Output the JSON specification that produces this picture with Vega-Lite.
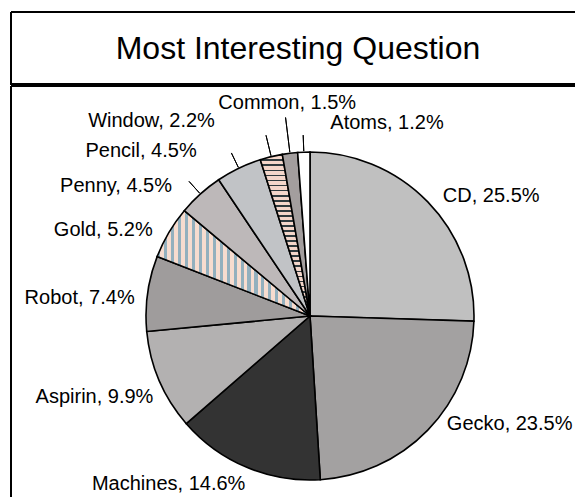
{
  "$schema": "https://vega.github.io/schema/vega-lite/v6.json",
  "padding": {"left": 10, "top": 11, "right": 0, "bottom": 0},
  "config": {
    "view": {"stroke": null},
    "concat": {"spacing": 0},
    "font": "Liberation Sans"
  },
  "spacing": 0,
  "vconcat": [
    {
      "width": 564,
      "height": 72,
      "data": {"values": [{"title": "Most Interesting Question"}]},
      "layer": [
        {
          "mark": {"type": "rect", "fill": "#ffffff", "fillOpacity": 0, "stroke": "#000000", "strokeWidth": 2, "strokeDash": [564, 72, 636, 0]},
          "encoding": {}
        },
        {
          "mark": {"type": "text", "font": "Liberation Sans", "fontSize": 32, "color": "#000000", "baseline": "alphabetic", "align": "center", "dx": 5, "dy": 11},
          "encoding": {"text": {"field": "title", "type": "nominal"}}
        }
      ]
    },
    {
      "width": 564,
      "height": 412,
      "data": {
        "values": [
          {"category": "CD", "pct": 25.5, "label": "CD, 25.5%", "rank": 1},
          {"category": "Gecko", "pct": 23.5, "label": "Gecko, 23.5%", "rank": 2},
          {"category": "Machines", "pct": 14.6, "label": "Machines, 14.6%", "rank": 3},
          {"category": "Aspirin", "pct": 9.9, "label": "Aspirin, 9.9%", "rank": 4},
          {"category": "Robot", "pct": 7.4, "label": "Robot, 7.4%", "rank": 5},
          {"category": "Gold", "pct": 5.2, "label": "Gold, 5.2%", "rank": 6},
          {"category": "Penny", "pct": 4.5, "label": "Penny, 4.5%", "rank": 7},
          {"category": "Pencil", "pct": 4.5, "label": "Pencil, 4.5%", "rank": 8},
          {"category": "Window", "pct": 2.2, "label": "Window, 2.2%", "rank": 9},
          {"category": "Common", "pct": 1.5, "label": "Common, 1.5%", "rank": 10},
          {"category": "Atoms", "pct": 1.2, "label": "Atoms, 1.2%", "rank": 11}
        ]
      },
      "layer": [
        {
          "data": {"values": [{"frame": 1}]},
          "mark": {"type": "rect", "fill": "#ffffff", "fillOpacity": 0, "stroke": "#000000", "strokeWidth": 2, "strokeDash": [564, 976, 412, 0]},
          "encoding": {}
        },
        {
          "mark": {"type": "arc", "radius": 164, "stroke": "#000000", "strokeWidth": 1.6, "xOffset": 17, "yOffset": 24},
          "encoding": {
            "theta": {"field": "pct", "type": "quantitative", "stack": true},
            "order": {"field": "rank", "type": "quantitative"},
            "fill": {
              "field": "category",
              "type": "nominal",
              "legend": null,
              "scale": {
                "domain": ["CD", "Gecko", "Machines", "Aspirin", "Robot", "Gold", "Penny", "Pencil", "Window", "Common", "Atoms"],
                "range": ["#c0c0c0", "#a3a1a1", "#333333", "#b3b1b1", "#9f9c9c", "#cdd0d2", "#bdb8b9", "#c1c3c6", "#9c8f8d", "#a39e9e", "#ffffff"]
              },
              "condition": [
                {
                  "test": "datum.category == 'Gold'",
                  "value": {
                    "gradient": "linear", "x1": 0, "y1": 0, "x2": 1, "y2": 0,
                    "stops": [
                      {"offset": 0, "color": "#93b0be"}, {"offset": 0.0205, "color": "#93b0be"}, {"offset": 0.0205, "color": "#f7dccf"}, {"offset": 0.0455, "color": "#f7dccf"},
                      {"offset": 0.0455, "color": "#93b0be"}, {"offset": 0.0659, "color": "#93b0be"}, {"offset": 0.0659, "color": "#f7dccf"}, {"offset": 0.0909, "color": "#f7dccf"},
                      {"offset": 0.0909, "color": "#93b0be"}, {"offset": 0.1114, "color": "#93b0be"}, {"offset": 0.1114, "color": "#f7dccf"}, {"offset": 0.1364, "color": "#f7dccf"},
                      {"offset": 0.1364, "color": "#93b0be"}, {"offset": 0.1568, "color": "#93b0be"}, {"offset": 0.1568, "color": "#f7dccf"}, {"offset": 0.1818, "color": "#f7dccf"},
                      {"offset": 0.1818, "color": "#93b0be"}, {"offset": 0.2023, "color": "#93b0be"}, {"offset": 0.2023, "color": "#f7dccf"}, {"offset": 0.2273, "color": "#f7dccf"},
                      {"offset": 0.2273, "color": "#93b0be"}, {"offset": 0.2477, "color": "#93b0be"}, {"offset": 0.2477, "color": "#f7dccf"}, {"offset": 0.2727, "color": "#f7dccf"},
                      {"offset": 0.2727, "color": "#93b0be"}, {"offset": 0.2932, "color": "#93b0be"}, {"offset": 0.2932, "color": "#f7dccf"}, {"offset": 0.3182, "color": "#f7dccf"},
                      {"offset": 0.3182, "color": "#93b0be"}, {"offset": 0.3386, "color": "#93b0be"}, {"offset": 0.3386, "color": "#f7dccf"}, {"offset": 0.3636, "color": "#f7dccf"},
                      {"offset": 0.3636, "color": "#93b0be"}, {"offset": 0.3841, "color": "#93b0be"}, {"offset": 0.3841, "color": "#f7dccf"}, {"offset": 0.4091, "color": "#f7dccf"},
                      {"offset": 0.4091, "color": "#93b0be"}, {"offset": 0.4295, "color": "#93b0be"}, {"offset": 0.4295, "color": "#f7dccf"}, {"offset": 0.4545, "color": "#f7dccf"},
                      {"offset": 0.4545, "color": "#93b0be"}, {"offset": 0.475, "color": "#93b0be"}, {"offset": 0.475, "color": "#f7dccf"}, {"offset": 0.5, "color": "#f7dccf"},
                      {"offset": 0.5, "color": "#93b0be"}, {"offset": 0.5205, "color": "#93b0be"}, {"offset": 0.5205, "color": "#f7dccf"}, {"offset": 0.5455, "color": "#f7dccf"},
                      {"offset": 0.5455, "color": "#93b0be"}, {"offset": 0.5659, "color": "#93b0be"}, {"offset": 0.5659, "color": "#f7dccf"}, {"offset": 0.5909, "color": "#f7dccf"},
                      {"offset": 0.5909, "color": "#93b0be"}, {"offset": 0.6114, "color": "#93b0be"}, {"offset": 0.6114, "color": "#f7dccf"}, {"offset": 0.6364, "color": "#f7dccf"},
                      {"offset": 0.6364, "color": "#93b0be"}, {"offset": 0.6568, "color": "#93b0be"}, {"offset": 0.6568, "color": "#f7dccf"}, {"offset": 0.6818, "color": "#f7dccf"},
                      {"offset": 0.6818, "color": "#93b0be"}, {"offset": 0.7023, "color": "#93b0be"}, {"offset": 0.7023, "color": "#f7dccf"}, {"offset": 0.7273, "color": "#f7dccf"},
                      {"offset": 0.7273, "color": "#93b0be"}, {"offset": 0.7477, "color": "#93b0be"}, {"offset": 0.7477, "color": "#f7dccf"}, {"offset": 0.7727, "color": "#f7dccf"},
                      {"offset": 0.7727, "color": "#93b0be"}, {"offset": 0.7932, "color": "#93b0be"}, {"offset": 0.7932, "color": "#f7dccf"}, {"offset": 0.8182, "color": "#f7dccf"},
                      {"offset": 0.8182, "color": "#93b0be"}, {"offset": 0.8386, "color": "#93b0be"}, {"offset": 0.8386, "color": "#f7dccf"}, {"offset": 0.8636, "color": "#f7dccf"},
                      {"offset": 0.8636, "color": "#93b0be"}, {"offset": 0.8841, "color": "#93b0be"}, {"offset": 0.8841, "color": "#f7dccf"}, {"offset": 0.9091, "color": "#f7dccf"},
                      {"offset": 0.9091, "color": "#93b0be"}, {"offset": 0.9295, "color": "#93b0be"}, {"offset": 0.9295, "color": "#f7dccf"}, {"offset": 0.9545, "color": "#f7dccf"},
                      {"offset": 0.9545, "color": "#93b0be"}, {"offset": 0.975, "color": "#93b0be"}, {"offset": 0.975, "color": "#f7dccf"}, {"offset": 1, "color": "#f7dccf"}
                    ]
                  }
                },
                {
                  "test": "datum.category == 'Window'",
                  "value": {
                    "gradient": "linear", "x1": 0, "y1": 0, "x2": 0, "y2": 1,
                    "stops": [
                      {"offset": 0, "color": "#2f3a3e"}, {"offset": 0.0109, "color": "#2f3a3e"}, {"offset": 0.0109, "color": "#f4d6ca"}, {"offset": 0.0313, "color": "#f4d6ca"},
                      {"offset": 0.0313, "color": "#2f3a3e"}, {"offset": 0.0422, "color": "#2f3a3e"}, {"offset": 0.0422, "color": "#f4d6ca"}, {"offset": 0.0625, "color": "#f4d6ca"},
                      {"offset": 0.0625, "color": "#2f3a3e"}, {"offset": 0.0734, "color": "#2f3a3e"}, {"offset": 0.0734, "color": "#f4d6ca"}, {"offset": 0.0938, "color": "#f4d6ca"},
                      {"offset": 0.0938, "color": "#2f3a3e"}, {"offset": 0.1047, "color": "#2f3a3e"}, {"offset": 0.1047, "color": "#f4d6ca"}, {"offset": 0.125, "color": "#f4d6ca"},
                      {"offset": 0.125, "color": "#2f3a3e"}, {"offset": 0.1359, "color": "#2f3a3e"}, {"offset": 0.1359, "color": "#f4d6ca"}, {"offset": 0.1563, "color": "#f4d6ca"},
                      {"offset": 0.1563, "color": "#2f3a3e"}, {"offset": 0.1672, "color": "#2f3a3e"}, {"offset": 0.1672, "color": "#f4d6ca"}, {"offset": 0.1875, "color": "#f4d6ca"},
                      {"offset": 0.1875, "color": "#2f3a3e"}, {"offset": 0.1984, "color": "#2f3a3e"}, {"offset": 0.1984, "color": "#f4d6ca"}, {"offset": 0.2188, "color": "#f4d6ca"},
                      {"offset": 0.2188, "color": "#2f3a3e"}, {"offset": 0.2297, "color": "#2f3a3e"}, {"offset": 0.2297, "color": "#f4d6ca"}, {"offset": 0.25, "color": "#f4d6ca"},
                      {"offset": 0.25, "color": "#2f3a3e"}, {"offset": 0.2609, "color": "#2f3a3e"}, {"offset": 0.2609, "color": "#f4d6ca"}, {"offset": 0.2813, "color": "#f4d6ca"},
                      {"offset": 0.2813, "color": "#2f3a3e"}, {"offset": 0.2922, "color": "#2f3a3e"}, {"offset": 0.2922, "color": "#f4d6ca"}, {"offset": 0.3125, "color": "#f4d6ca"},
                      {"offset": 0.3125, "color": "#2f3a3e"}, {"offset": 0.3234, "color": "#2f3a3e"}, {"offset": 0.3234, "color": "#f4d6ca"}, {"offset": 0.3438, "color": "#f4d6ca"},
                      {"offset": 0.3438, "color": "#2f3a3e"}, {"offset": 0.3547, "color": "#2f3a3e"}, {"offset": 0.3547, "color": "#f4d6ca"}, {"offset": 0.375, "color": "#f4d6ca"},
                      {"offset": 0.375, "color": "#2f3a3e"}, {"offset": 0.3859, "color": "#2f3a3e"}, {"offset": 0.3859, "color": "#f4d6ca"}, {"offset": 0.4063, "color": "#f4d6ca"},
                      {"offset": 0.4063, "color": "#2f3a3e"}, {"offset": 0.4172, "color": "#2f3a3e"}, {"offset": 0.4172, "color": "#f4d6ca"}, {"offset": 0.4375, "color": "#f4d6ca"},
                      {"offset": 0.4375, "color": "#2f3a3e"}, {"offset": 0.4484, "color": "#2f3a3e"}, {"offset": 0.4484, "color": "#f4d6ca"}, {"offset": 0.4688, "color": "#f4d6ca"},
                      {"offset": 0.4688, "color": "#2f3a3e"}, {"offset": 0.4797, "color": "#2f3a3e"}, {"offset": 0.4797, "color": "#f4d6ca"}, {"offset": 0.5, "color": "#f4d6ca"},
                      {"offset": 0.5, "color": "#2f3a3e"}, {"offset": 0.5109, "color": "#2f3a3e"}, {"offset": 0.5109, "color": "#f4d6ca"}, {"offset": 0.5313, "color": "#f4d6ca"},
                      {"offset": 0.5313, "color": "#2f3a3e"}, {"offset": 0.5422, "color": "#2f3a3e"}, {"offset": 0.5422, "color": "#f4d6ca"}, {"offset": 0.5625, "color": "#f4d6ca"},
                      {"offset": 0.5625, "color": "#2f3a3e"}, {"offset": 0.5734, "color": "#2f3a3e"}, {"offset": 0.5734, "color": "#f4d6ca"}, {"offset": 0.5938, "color": "#f4d6ca"},
                      {"offset": 0.5938, "color": "#2f3a3e"}, {"offset": 0.6047, "color": "#2f3a3e"}, {"offset": 0.6047, "color": "#f4d6ca"}, {"offset": 0.625, "color": "#f4d6ca"},
                      {"offset": 0.625, "color": "#2f3a3e"}, {"offset": 0.6359, "color": "#2f3a3e"}, {"offset": 0.6359, "color": "#f4d6ca"}, {"offset": 0.6563, "color": "#f4d6ca"},
                      {"offset": 0.6563, "color": "#2f3a3e"}, {"offset": 0.6672, "color": "#2f3a3e"}, {"offset": 0.6672, "color": "#f4d6ca"}, {"offset": 0.6875, "color": "#f4d6ca"},
                      {"offset": 0.6875, "color": "#2f3a3e"}, {"offset": 0.6984, "color": "#2f3a3e"}, {"offset": 0.6984, "color": "#f4d6ca"}, {"offset": 0.7188, "color": "#f4d6ca"},
                      {"offset": 0.7188, "color": "#2f3a3e"}, {"offset": 0.7297, "color": "#2f3a3e"}, {"offset": 0.7297, "color": "#f4d6ca"}, {"offset": 0.75, "color": "#f4d6ca"},
                      {"offset": 0.75, "color": "#2f3a3e"}, {"offset": 0.7609, "color": "#2f3a3e"}, {"offset": 0.7609, "color": "#f4d6ca"}, {"offset": 0.7813, "color": "#f4d6ca"},
                      {"offset": 0.7813, "color": "#2f3a3e"}, {"offset": 0.7922, "color": "#2f3a3e"}, {"offset": 0.7922, "color": "#f4d6ca"}, {"offset": 0.8125, "color": "#f4d6ca"},
                      {"offset": 0.8125, "color": "#2f3a3e"}, {"offset": 0.8234, "color": "#2f3a3e"}, {"offset": 0.8234, "color": "#f4d6ca"}, {"offset": 0.8438, "color": "#f4d6ca"},
                      {"offset": 0.8438, "color": "#2f3a3e"}, {"offset": 0.8547, "color": "#2f3a3e"}, {"offset": 0.8547, "color": "#f4d6ca"}, {"offset": 0.875, "color": "#f4d6ca"},
                      {"offset": 0.875, "color": "#2f3a3e"}, {"offset": 0.8859, "color": "#2f3a3e"}, {"offset": 0.8859, "color": "#f4d6ca"}, {"offset": 0.9063, "color": "#f4d6ca"},
                      {"offset": 0.9063, "color": "#2f3a3e"}, {"offset": 0.9172, "color": "#2f3a3e"}, {"offset": 0.9172, "color": "#f4d6ca"}, {"offset": 0.9375, "color": "#f4d6ca"},
                      {"offset": 0.9375, "color": "#2f3a3e"}, {"offset": 0.9484, "color": "#2f3a3e"}, {"offset": 0.9484, "color": "#f4d6ca"}, {"offset": 0.9688, "color": "#f4d6ca"},
                      {"offset": 0.9688, "color": "#2f3a3e"}, {"offset": 0.9797, "color": "#2f3a3e"}, {"offset": 0.9797, "color": "#f4d6ca"}, {"offset": 1, "color": "#f4d6ca"}
                    ]
                  }
                }
              ]
            }
          }
        },
        {
          "mark": {
            "type": "arc",
            "radius2": 165,
            "radius": {"expr": "datum.category == 'Common' ? 200 : datum.category == 'Window' ? 186 : 181"},
            "padAngle": 0.5,
            "stroke": "#000000",
            "strokeWidth": 1,
            "fillOpacity": 0,
            "strokeOpacity": {"expr": "indexof(['Penny','Pencil','Window','Common','Atoms'], datum.category) >= 0 ? 1 : 0"},
            "xOffset": 17,
            "yOffset": 24
          },
          "encoding": {
            "theta": {"field": "pct", "type": "quantitative", "stack": true},
            "order": {"field": "rank", "type": "quantitative"},
            "detail": {"field": "category", "type": "nominal"}
          }
        },
        {
          "mark": {
            "type": "text",
            "radius": 178,
            "font": "Liberation Sans",
            "fontSize": 20,
            "color": "#000000",
            "baseline": "alphabetic",
            "xOffset": 17,
            "yOffset": 24,
            "align": {"expr": "indexof(['CD','Gecko','Atoms'], datum.category) >= 0 ? 'left' : datum.category == 'Common' ? 'center' : 'right'"},
            "dx": {"expr": "{'CD': 5, 'Gecko': 9, 'Machines': 4, 'Aspirin': 7, 'Robot': 1, 'Gold': -4, 'Penny': -19, 'Pencil': -36, 'Window': -53, 'Common': -1, 'Atoms': 27}[datum.category]"},
            "dy": {"expr": "{'CD': 10, 'Gecko': -10, 'Machines': 10, 'Aspirin': 17, 'Robot': 13, 'Gold': 11, 'Penny': 8, 'Pencil': 1, 'Window': -16, 'Common': -30, 'Atoms': -9}[datum.category]"}
          },
          "encoding": {
            "theta": {"field": "pct", "type": "quantitative", "stack": true},
            "order": {"field": "rank", "type": "quantitative"},
            "text": {"field": "label", "type": "nominal"},
            "detail": {"field": "category", "type": "nominal"}
          }
        }
      ]
    }
  ]
}
